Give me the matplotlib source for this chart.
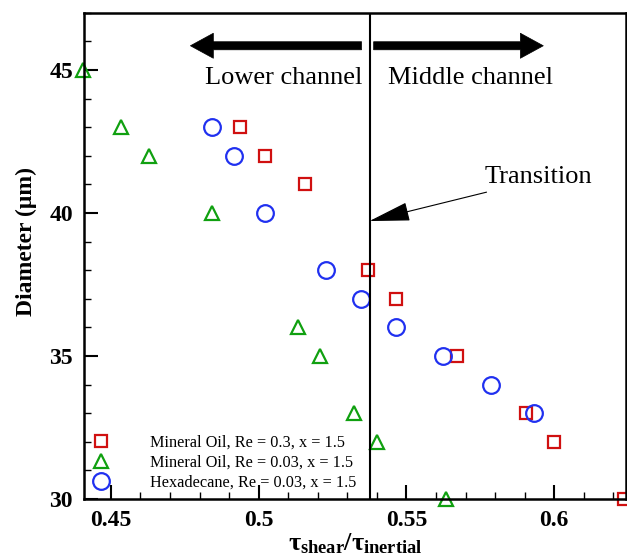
import matplotlib
matplotlib.use("Agg")
import matplotlib.pyplot as plt
from matplotlib.ticker import MultipleLocator

plt.rcParams['font.family'] = ['Liberation Serif', 'DejaVu Serif']
plt.rcParams['mathtext.fontset'] = 'custom'
plt.rcParams['mathtext.rm'] = 'Liberation Serif:bold'
plt.rcParams['mathtext.it'] = 'Liberation Serif:bold'
plt.rcParams['mathtext.bf'] = 'Liberation Serif:bold'

# Data
mo03_x = [0.4936, 0.502, 0.5156, 0.537, 0.5464, 0.5671, 0.5906, 0.600, 0.6237]
mo03_y = [43, 42, 41, 38, 37, 35, 33, 32, 30]
mo003_x = [0.4405, 0.4534, 0.4628, 0.4841, 0.5132, 0.5207, 0.5321, 0.5399, 0.5635]
mo003_y = [45, 43, 42, 40, 36, 35, 33, 32, 30]
hex_x = [0.4841, 0.4918, 0.5023, 0.5229, 0.5345, 0.5466, 0.5625, 0.5787, 0.5932]
hex_y = [43, 42, 40, 38, 37, 36, 35, 34, 33]
labels = ["Mineral Oil, Re = 0.3, x = 1.5",
          "Mineral Oil, Re = 0.03, x = 1.5",
          "Hexadecane, Re = 0.03, x = 1.5"]
transition_x = 0.5375

fig = plt.figure(figsize=(6.27, 5.6), dpi=100)
ax = fig.add_axes([0.134, 0.109, 0.864, 0.868])

ax.plot(mo03_x, mo03_y, ls='none', marker='s', ms=9, mfc='none', mec='#d01010', mew=1.6,
        label=labels[0], clip_on=False)
ax.plot(mo003_x, mo003_y, ls='none', marker='^', ms=10, mfc='none', mec='#10a010', mew=1.6,
        label=labels[1], clip_on=False)
ax.plot(hex_x, hex_y, ls='none', marker='o', ms=12, mfc='none', mec='#2030f0', mew=1.6,
        label=labels[2], clip_on=False)

ax.axvline(transition_x, color='black', lw=1.5)

ax.set_xlim(0.4409, 0.6242)
ax.set_ylim(30, 47)
ax.xaxis.set_minor_locator(MultipleLocator(0.01))
ax.yaxis.set_major_locator(MultipleLocator(5))
ax.yaxis.set_minor_locator(MultipleLocator(1))
ax.set_xticks([0.45, 0.5, 0.55, 0.6])
ax.set_xticklabels(['0.45', '0.5', '0.55', '0.6'])
ax.tick_params(which='major', direction='in', length=10, width=1.5, labelsize=17, pad=8)
ax.tick_params(which='minor', direction='in', length=5, width=1)
for lab in ax.get_xticklabels() + ax.get_yticklabels():
    lab.set_fontweight('bold')
for s in ax.spines.values():
    s.set_linewidth(1.8)

ax.set_ylabel('Diameter (μm)', fontsize=17, fontweight='bold')
ax.yaxis.set_label_coords(-0.086, 0.53)
ax.set_xlabel(r'$\tau_{shear}/\tau_{inertial}$', fontsize=19, labelpad=0)

# channel arrows
arrow_style = 'simple,head_length=1.65,head_width=1.8,tail_width=0.58'
ax.annotate('', xy=(0.4769, 45.85), xytext=(0.5348, 45.85),
            arrowprops=dict(arrowstyle=arrow_style, fc='black', ec='black', lw=0.5,
                            shrinkA=0, shrinkB=0, mutation_scale=10))
ax.annotate('', xy=(0.5963, 45.85), xytext=(0.5389, 45.85),
            arrowprops=dict(arrowstyle=arrow_style, fc='black', ec='black', lw=0.5,
                            shrinkA=0, shrinkB=0, mutation_scale=10))
ax.text(0.5085, 44.72, 'Lower channel', fontsize=19, ha='center', va='center')
ax.text(0.5717, 44.72, 'Middle channel', fontsize=19, ha='center', va='center')

ax.text(0.5945, 41.25, 'Transition', fontsize=19, ha='center', va='center')
ax.annotate('', xy=(transition_x, 39.72), xytext=(0.5771, 40.73),
            arrowprops=dict(arrowstyle='-|>,head_length=2.6,head_width=0.6', lw=0.8,
                            color='black', shrinkA=0, shrinkB=0, mutation_scale=10))

ax.legend(loc='lower left', bbox_to_anchor=(0.001, 0.0), frameon=False, fontsize=11.7,
          handlelength=1.0, handletextpad=2.5, labelspacing=0.25, borderaxespad=0.2,
          borderpad=0.3)

fig.savefig('out.png', dpi=100)
